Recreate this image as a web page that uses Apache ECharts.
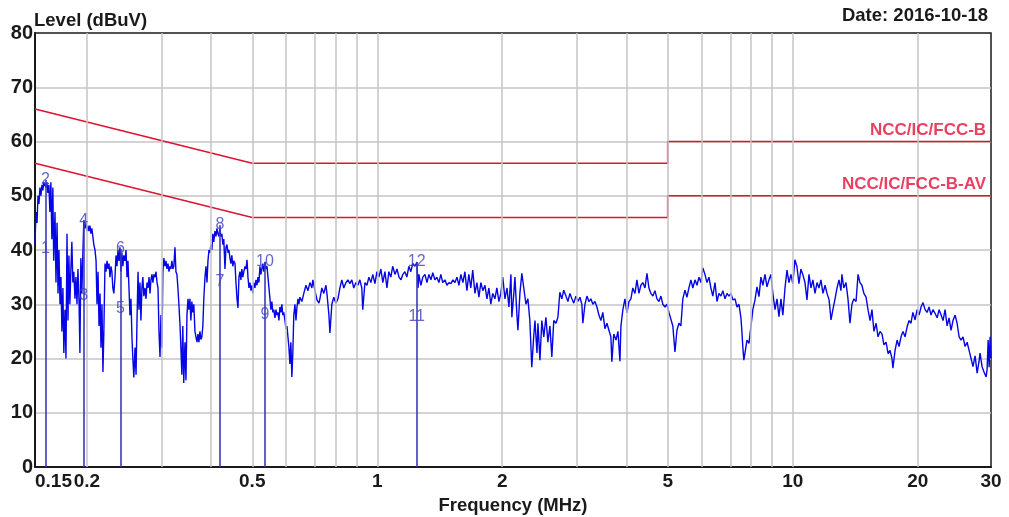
<!DOCTYPE html>
<html><head><meta charset="utf-8">
<script src="https://cdn.jsdelivr.net/npm/echarts@6/dist/echarts.min.js"></script>
<style>html,body{margin:0;padding:0;background:#fff;overflow:hidden}#c{width:1009px;height:517px}</style>
</head><body><div id="c"></div>
<script>
// ---- data ----
const traceFreq = [
0.1500,0.1508,0.1517,0.1525,0.1533,0.1542,0.1550,0.1559,0.1567,0.1575,
0.1594,0.1602,0.1611,0.1620,0.1629,0.1638,0.1647,0.1656,0.1664,
0.1676,0.1685,0.1695,0.1704,0.1713,0.1723,0.1732,0.1741,0.1751,0.1760,
0.1771,0.1781,0.1791,0.1801,0.1810,0.1820,0.1830,0.1840,0.1850,0.1860,
0.1872,0.1882,0.1893,0.1903,0.1914,0.1924,0.1934,0.1945,0.1955,0.1966,
0.1979,0.1990,0.2001,0.2012,0.2023,0.2034,0.2045,0.2056,0.2067,0.2078,
0.2092,0.2104,0.2115,0.2127,0.2139,0.2151,0.2162,0.2174,0.2186,0.2197,
0.2211,0.2223,0.2236,0.2248,0.2260,0.2273,0.2285,0.2297,0.2309,0.2322,
0.2337,0.2350,0.2363,0.2376,0.2389,0.2402,0.2415,0.2428,0.2441,0.2454,
0.2470,0.2484,0.2498,0.2511,0.2525,0.2539,0.2553,0.2567,0.2580,0.2594,
0.2611,0.2626,0.2640,0.2655,0.2669,0.2684,0.2698,0.2713,0.2727,0.2742,
0.2760,0.2775,0.2791,0.2806,0.2822,0.2837,0.2852,0.2868,0.2883,0.2899,
0.2917,0.2933,0.2950,0.2966,0.2982,0.2999,0.3015,0.3031,0.3047,0.3064,
0.3083,0.3100,0.3117,0.3135,0.3152,0.3169,0.3186,0.3203,0.3221,0.3238,
0.3258,0.3276,0.3294,0.3312,0.3330,0.3349,0.3367,0.3385,0.3403,0.3421,
0.3444,0.3463,0.3482,0.3502,0.3521,0.3540,0.3559,0.3578,0.3598,0.3617,
0.3640,0.3660,0.3681,0.3701,0.3721,0.3742,0.3762,0.3782,0.3803,0.3823,
0.3848,0.3869,0.3891,0.3912,0.3934,0.3955,0.3976,0.3998,0.4019,0.4041,
0.4067,0.4090,0.4112,0.4135,0.4158,0.4180,0.4203,0.4226,0.4249,0.4271,
0.4299,0.4323,0.4347,0.4371,0.4395,0.4419,0.4442,0.4466,0.4490,0.4514,
0.4544,0.4569,0.4595,0.4620,0.4645,0.4671,0.4696,0.4721,0.4746,0.4772,
0.4803,0.4830,0.4857,0.4883,0.4910,0.4937,0.4964,0.4991,0.5017,0.5044,
0.5076,0.5104,0.5133,0.5161,0.5189,0.5218,0.5246,0.5274,0.5302,0.5331,
0.5366,0.5396,0.5426,0.5456,0.5486,0.5516,0.5545,0.5575,0.5605,0.5635,
0.5671,0.5703,0.5734,0.5766,0.5797,0.5829,0.5861,0.5892,0.5924,0.5955,
0.5994,0.6027,0.6061,0.6094,0.6128,0.6161,0.6194,0.6228,0.6261,0.6295,
0.6336,0.6371,0.6407,0.6442,0.6477,0.6513,
0.6584,0.6654,0.6734,0.6809,0.6884,0.6958,0.6996,0.7078,0.7157,0.7236,
0.7275,0.7354,0.7433,0.7523,0.7564,0.7648,0.7690,0.7773,0.7856,0.7952,
0.8040,0.8128,0.8216,0.8304,0.8404,0.8497,0.8590,0.8683,0.8776,0.8882,
0.8981,0.9079,0.9177,0.9226,0.9337,0.9441,0.9545,0.9649,0.9753,0.9869,
0.9979,
1.009,1.020,1.031,1.043,1.055,1.066,1.078,1.089,1.103,1.115,
1.128,1.140,1.152,1.165,1.178,1.191,1.204,1.217,1.232,1.246,
1.253,1.259,1.273,1.287,1.302,1.317,1.331,1.346,1.360,1.376,
1.391,1.407,1.422,1.437,1.455,1.471,1.487,1.504,1.520,1.538,
1.555,1.572,1.589,1.607,1.625,1.643,1.661,1.679,1.697,1.718,
1.737,1.756,1.775,1.795,1.816,1.836,1.856,1.876,1.896,1.919,
1.940,1.962,1.983,2.004,2.029,2.052,2.074,2.097,2.108,2.131,
2.144,2.168,2.180,2.204,2.228,2.252,2.279,2.304,2.329,2.354,
2.379,2.396,2.423,2.436,2.463,2.489,2.516,2.546,2.574,2.603,
2.631,2.659,2.691,2.721,2.750,
2.780,2.810,2.845,2.876,2.908,2.940,2.971,3.007,3.040,3.074,
3.107,3.124,3.161,3.196,3.231,3.267,3.302,3.341,3.378,3.415,
3.453,3.490,3.531,3.570,3.610,3.649,3.669,3.708,3.754,3.795,
3.837,3.858,3.900,3.945,3.989,4.033,4.077,4.121,4.170,4.216,
4.263,4.309,4.356,4.408,4.457,4.506,4.555,4.605,4.659,4.711,
4.763,4.815,4.867,4.925,4.980,5.035,5.089,5.144,5.205,5.263,
5.321,5.379,5.437,5.502,5.563,5.624,5.686,5.747,5.816,5.881,
5.946,6.010,6.075,
6.147,6.215,6.284,6.352,6.421,6.498,6.570,6.643,6.715,6.788,
6.868,6.945,7.021,7.098,7.175,7.260,7.341,7.422,7.502,7.543,
7.583,7.624,7.673,7.758,7.844,7.929,8.015,8.111,8.201,8.292,
8.382,8.472,8.573,8.669,8.764,8.860,8.955,9.062,9.163,9.264,
9.365,9.466,9.578,9.685,9.791,9.898,10.00,10.12,10.23,10.35,
10.46,10.57,10.70,10.82,10.94,11.06,11.18,11.31,11.44,11.56,
11.69,11.82,11.96,12.09,12.23,12.36,12.49,12.64,12.78,12.92,
13.06,13.13,13.27,13.43,13.58,13.73,13.88,14.03,14.20,14.36,
14.51,14.67,14.83,15.01,15.18,15.35,15.51,15.68,15.87,16.04,
16.22,16.40,16.57,16.77,16.96,17.14,17.33,17.42,17.63,17.83,
18.02,18.22,18.42,18.63,18.84,19.05,19.25,19.46,19.70,19.92,
20.14,20.36,20.58,20.82,21.05,21.28,21.51,21.74,22.01,22.26,
22.50,22.75,23.00,23.26,23.52,23.78,24.04,24.30,24.59,24.86,
25.14,25.41,25.69,25.99,26.28,26.57,26.86,27.15,27.47,27.78,
28.08,28.23,28.55,28.86,29.20,29.36,29.53,29.69,29.85,30.00
];
const traceLevel = [
41,47,45,50,48.5,51.5,50,52,51,52.5,
51.5,52.5,50.5,52,47,52.5,42,51.5,38,
47,34,45,32,40,30,35,25,33,21,
29,20,43,27,39,30,36.5,41.5,34,36,
31,35,30,36.5,31,21,38.5,32,39,45.5,
44,45,43.5,44.5,43.5,44.5,43,44,42.5,41,
40,38,30,36,26,32,22,30,17.5,25,
37.5,36,38,36.5,37.5,35,37,36,33,32,
35,39,37,40,38,40.5,36,39.5,37,39,
38,40,35,38,33,28,31,24,20,16.5,
22,17,27,36,29,34,27,33,35,31.5,
33,31,34,33,35,32,34.5,35.5,34,35.5,
35,36,34,33,25,20.3,28,22,36,38.5,
37,38,36.5,37.5,36,37,36.5,38,36.5,37,
40.5,36,35.5,33,30,26.5,22,17,26,15.5,
23,16,28,31,29,31,27,30.5,28.5,30,
25,24,23,24.5,23,25,23.5,24,26,31,
35,37,34,38,40,39.5,41,40,43,41.5,
43.5,42.5,44,43,42.5,44,42.5,43,41,42,
36.5,40.5,41,39.5,40,38.5,37.5,39,37,38,
37.5,34,31,29.3,35,36,34.5,36.5,35,36,
37,36.5,38.2,35,33,34,32.5,33.5,32,34,
33,34.5,33.5,35,34,37,35.5,36.5,37.5,36,
37.8,36.5,37,35,33,31,29,30.5,28.5,29,
27.5,29,28,28.5,27,29.5,28.5,30,28,28.5,
27,25.5,26,24,22,19,23,16.6,21,28,
30,27,29.5,31,30,31.3,
30.5,32,33.5,32.5,34,33,34.5,32.5,30.8,30.2,
31,33,32,33.5,32,28,24.7,30,31.3,30.2,
31,33,34.5,33,34,34.5,33.8,34.5,33,34,
33.5,34.5,33,29,34,33.5,35,34,35.5,33.8,
36,
35,36.5,34,36,33,36,35,37,35.5,36.5,
35,34.5,35.5,36,35,37,36,37.5,37,37.8,
33,35.5,33.5,35,35.5,34,35.5,34.5,35.8,34.5,
35,34,35.5,34,34.5,33.5,34,33.8,34.5,34,
35,33.5,35.5,34,36,32.5,35.5,33,36.3,32,
34,31.3,34,32.5,33.5,31,33,30,32,31,
33,30.5,32,35,31,33,29.5,35.5,27.6,32,
35,28,25.2,32,35.7,33,30,31,27,18.4,
24,27,21,26.5,19.7,27,24,27.6,23,26,
20.3,27,26.5,27.6,32.2,
31,32.6,31.5,30.5,32,31,30.2,31.5,30.5,31.3,
30,26.5,30,31.5,30.5,31,30,30.5,29.5,28,
27,28.5,25.5,26.5,25.2,24,19.4,24.5,23.4,25,
19.5,26,29,31,28.4,30.5,31,33,32,34.5,
32,33.5,34,33,35.7,33,32,31.5,32.5,31,
30.5,31.5,30,29.5,30,28.5,28.4,26,21.2,25.2,
26.5,26,31,32.6,31.3,33,34.5,33,34.5,33.5,
35,34,36.7,
35.5,34,35,33,31.5,34,30.5,32,31.5,32.5,
31,32,31.5,32,30.8,31,29.5,30,27.5,25,
22,19.7,21,23.4,22.8,23,29,30.8,33.2,31.4,
35,33.5,35.5,33.2,34.5,35.5,32,29,31,27.7,
31,28,33,36.3,34,35.5,33.8,38.2,37,33.8,
36.5,35.5,34,30.8,35.5,33,34.5,32,34,33,
34.5,32,33.5,32,30.8,27.1,29,31,33,34.5,
32.5,35.5,33,34,31,26.5,30,31,30.5,35.5,
34,33.5,32,31.3,28.9,27,29,25,26.5,24,
25,24.5,22.5,23,20.9,21.5,20,18.2,21.5,23.4,
22.2,24,25,24,25.8,27,26.5,28.5,27.1,29,
28,29.5,30.3,29,28.5,29.5,28,29,28.3,27.5,
29,28,27,29,26,27.5,25.2,27,28,26.5,
24,23.4,24,22.2,23,21.5,20,18.5,20.5,17.3,
19.5,21,18.5,17.5,16.6,18,23.4,18.4,24,20
];
const limitQPFreq  = [0.15, 0.5, 5, 5, 30];
const limitQPLevel = [66, 56, 56, 60, 60];
const limitAVFreq  = [0.15, 0.5, 5, 5, 30];
const limitAVLevel = [56, 46, 46, 50, 50];
const limitNames = ['NCC/IC/FCC-B', 'NCC/IC/FCC-B-AV'];
const markerFreq = [0.1590, 0.1964, 0.2408, 0.4180, 0.5366, 1.244];
const markerAV   = [40.2, 31.6, 29.2, 34.1, 28.1, 27.7];
const markerQP   = [52.9, 45.4, 40.2, 44.6, 37.8, 37.8];
const markerAVNo = ['1', '3', '5', '7', '9', '11'];
const markerQPNo = ['2', '4', '6', '8', '10', '12'];
const xTickLabels = [0.15, 0.2, 0.5, 1, 2, 5, 10, 20, 30];
const xGridFreq = [0.2,0.3,0.4,0.5,0.6,0.7,0.8,0.9,1,2,3,4,5,6,7,8,9,10,20];
const yMin = 0, yMax = 80, yStep = 10;

// ---- chart ----
const lg = f => Math.log10(f);
const FONT = '"Liberation Sans", Arial, sans-serif';
const DARK = '#1a1a1a';
const RED = '#dc1434';
const MBLUE = '#3a3ab8';

const trace = traceFreq.map((f, i) => [lg(f), traceLevel[i]]);
const qp = limitQPFreq.map((f, i) => [lg(f), limitQPLevel[i]]);
const av = limitAVFreq.map((f, i) => [lg(f), limitAVLevel[i]]);
const markerLabels = [];
markerFreq.forEach((f, i) => {
  markerLabels.push([lg(f), markerAV[i], markerAVNo[i]]);
  markerLabels.push([lg(f), markerQP[i], markerQPNo[i]]);
});
const markerLines = markerFreq.map((f, i) => [
  { coord: [lg(f), 0] }, { coord: [lg(f), markerQP[i]] }
]);

const chart = echarts.init(document.getElementById('c'), null, { renderer: 'canvas' });
chart.setOption({
  animation: false,
  backgroundColor: '#ffffff',
  textStyle: { fontFamily: FONT },
  title: [
    { text: 'Level (dBuV)', left: 34, top: 11, padding: 0,
      textStyle: { fontSize: 18.5, fontWeight: 'bold', color: DARK, fontFamily: FONT } },
    { text: 'Date: 2016-10-18', right: 21, top: 6, padding: 0,
      textStyle: { fontSize: 18.5, fontWeight: 'bold', color: DARK, fontFamily: FONT } }
  ],
  grid: { left: 35, right: 18, top: 33, bottom: 50, show: true, containLabel: false,
          outerBoundsMode: 'none',
          borderColor: DARK, borderWidth: 1.5, backgroundColor: '#ffffff' },
  xAxis: {
    type: 'value', min: lg(0.15), max: lg(30),
    name: 'Frequency (MHz)', nameLocation: 'middle', nameGap: 29,
    nameTextStyle: { fontSize: 18.5, fontWeight: 'bold', color: DARK, fontFamily: FONT },
    axisLine: { show: true, onZero: false, lineStyle: { color: DARK, width: 2 } },
    axisTick: { show: false },
    splitLine: { show: false },
    axisLabel: {
      customValues: xTickLabels.map(lg),
      formatter: v => String(+Math.pow(10, v).toPrecision(2)),
      fontSize: 19, fontWeight: 'bold', color: DARK, fontFamily: FONT, margin: 5,
      alignMinLabel: 'left', showMinLabel: true, showMaxLabel: true
    }
  },
  yAxis: {
    type: 'value', min: yMin, max: yMax, interval: yStep,
    axisLine: { show: true, onZero: false, lineStyle: { color: DARK, width: 2 } },
    axisTick: { show: false },
    splitLine: { show: true, showMinLine: false, showMaxLine: false,
                 lineStyle: { color: '#c4c4c4', width: 1.5 } },
    axisLabel: { fontSize: 20, fontWeight: 'bold', color: DARK, fontFamily: FONT, margin: 2 }
  },
  series: [
    { // vertical log grid
      type: 'line', data: [], z: 1, silent: true,
      markLine: { silent: true, symbol: ['none', 'none'], label: { show: false },
        lineStyle: { color: '#c4c4c4', width: 1.5, type: 'solid' },
        data: xGridFreq.map(f => ({ xAxis: lg(f) })) }
    },
    { name: 'QP limit', type: 'line', data: qp, showSymbol: false, z: 2,
      lineStyle: { color: RED, width: 1.6 } },
    { name: 'AV limit', type: 'line', data: av, showSymbol: false, z: 2,
      lineStyle: { color: RED, width: 1.6 } },
    { // marker verticals
      type: 'line', data: [], z: 2, silent: true,
      markLine: { silent: true, symbol: ['none', 'none'], label: { show: false },
        lineStyle: { color: MBLUE, width: 1.6, type: 'solid' }, data: markerLines }
    },
    { name: 'Trace', type: 'line', data: trace, showSymbol: false, z: 3,
      lineStyle: { color: '#0505e6', width: 1.4 }, sampling: null },
    { type: 'scatter', z: 5, symbolSize: 1, itemStyle: { color: 'rgba(0,0,0,0)' },
      data: markerLabels,
      label: { show: true, position: 'inside', formatter: p => p.data[2],
               fontSize: 16, color: '#3e3ec6', fontFamily: FONT } },
    { type: 'scatter', z: 5, symbolSize: 1, itemStyle: { color: 'rgba(0,0,0,0)' },
      data: [[lg(29.2), limitQPLevel[4], limitNames[0]], [lg(29.2), limitAVLevel[4], limitNames[1]]],
      label: { show: true, position: 'top', distance: 2, align: 'right', fontWeight: 'bold',
               formatter: p => p.data[2], fontSize: 17, color: '#e4103a', fontFamily: FONT } }
  ]
});
</script>
</body></html>
